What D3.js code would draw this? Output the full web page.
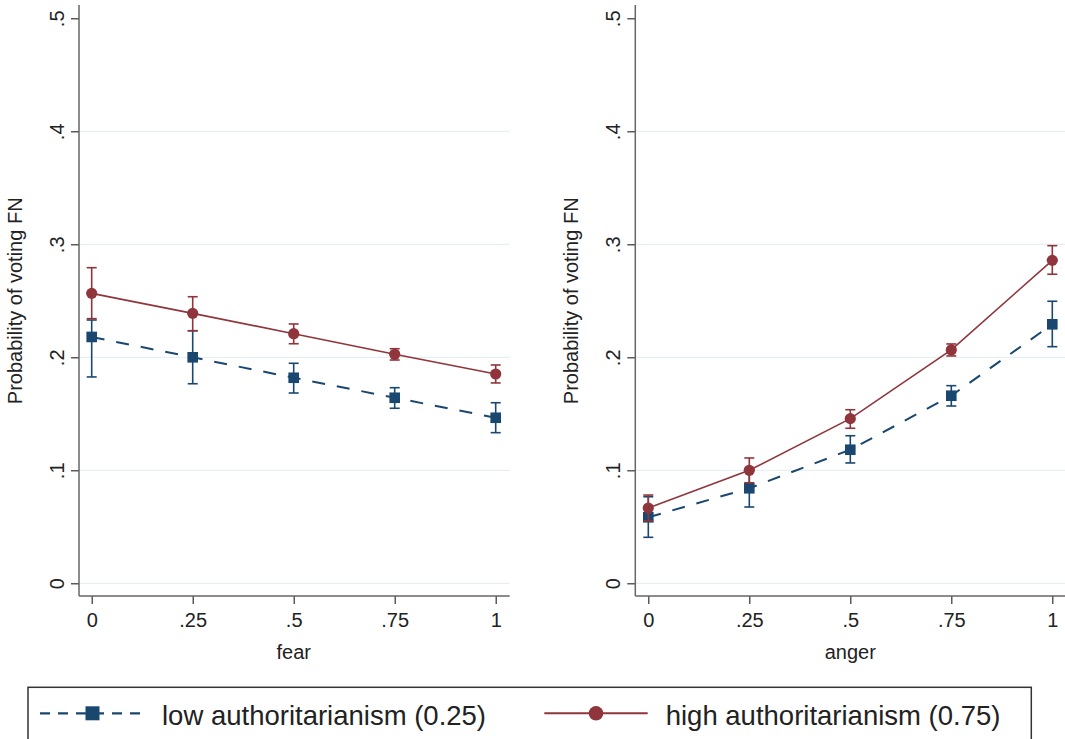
<!DOCTYPE html>
<html>
<head>
<meta charset="utf-8">
<script src="https://cdn.jsdelivr.net/npm/d3@7"></script>
<style>
html,body{margin:0;padding:0;background:#fff;}
svg{display:block;font-family:"Liberation Sans",Arial,Helvetica,sans-serif;}
</style>
</head>
<body>
<svg id="chart" width="1065" height="739"></svg>
<script>
// ---- data ----
const xLevels = [0, 0.25, 0.5, 0.75, 1];
const xTickLabels = ["0", ".25", ".5", ".75", "1"];
const yTicks = [0, 0.1, 0.2, 0.3, 0.4, 0.5];
const yTickLabels = ["0", ".1", ".2", ".3", ".4", ".5"];
const panelTitles = ["fear", "anger"];
const yTitle = "Probability of voting FN";
const seriesNames = ["low authoritarianism (0.25)", "high authoritarianism (0.75)"];

// fear panel
const fearLow     = [0.2180, 0.2000, 0.1819, 0.1642, 0.1465];
const fearLowLo   = [0.1826, 0.1766, 0.1684, 0.1549, 0.1333];
const fearLowHi   = [0.2330, 0.2235, 0.1947, 0.1731, 0.1598];
const fearHigh    = [0.2566, 0.2389, 0.2209, 0.2027, 0.1852];
const fearHighLo  = [0.2342, 0.2235, 0.2120, 0.1976, 0.1773];
const fearHighHi  = [0.2793, 0.2536, 0.2295, 0.2076, 0.1932];
// anger panel
const angerLow    = [0.0584, 0.0841, 0.1182, 0.1660, 0.2292];
const angerLowLo  = [0.0407, 0.0675, 0.1065, 0.1569, 0.2094];
const angerLowHi  = [0.0766, 0.1005, 0.1306, 0.1749, 0.2496];
const angerHigh   = [0.0666, 0.1000, 0.1457, 0.2065, 0.2858];
const angerHighLo = [0.0551, 0.0890, 0.1372, 0.2012, 0.2735];
const angerHighHi = [0.0781, 0.1109, 0.1536, 0.2118, 0.2988];

const colors = ["#1a476f", "#90353b"];
const textColor = "#222";

const svg = d3.select("#chart");

const panels = [
  { title: panelTitles[0], axisX: 79, x0: 91.7, x1: 495.7, right: 509.7,
    series: [
      { v: fearLow, lo: fearLowLo, hi: fearLowHi },
      { v: fearHigh, lo: fearHighLo, hi: fearHighHi } ] },
  { title: panelTitles[1], axisX: 635.3, x0: 648.3, x1: 1052.3, right: 1066,
    series: [
      { v: angerLow, lo: angerLowLo, hi: angerLowHi },
      { v: angerHigh, lo: angerHighLo, hi: angerHighHi } ] }
];

const plotTop = 5, axisY = 596;
const y = d3.scaleLinear().domain([0, 0.5]).range([583.3, 18.3]);

panels.forEach(p => {
  const x = d3.scaleLinear().domain([0, 1]).range([p.x0, p.x1]);
  const g = svg.append("g");

  // gridlines
  g.selectAll("line.grid").data(yTicks.filter(d => d < 0.5)).join("line")
    .attr("x1", p.axisX).attr("x2", p.right)
    .attr("y1", d => y(d)).attr("y2", d => y(d))
    .attr("stroke", "#e6eff1").attr("stroke-width", 1.3);

  // y axis
  const yAxis = d3.axisLeft(y).tickValues(yTicks)
    .tickFormat((d, i) => yTickLabels[i]).tickSize(8).tickSizeOuter(0);
  const ya = g.append("g").attr("transform", `translate(${p.axisX},0)`).call(yAxis);
  ya.select(".domain").remove();
  ya.selectAll(".tick line").attr("stroke", "#333").attr("stroke-width", 1.2);
  ya.selectAll(".tick text")
    .attr("transform", "rotate(-90)")
    .attr("x", 0).attr("y", -15.5).attr("dy", 0)
    .attr("text-anchor", "middle")
    .attr("fill", textColor).style("font-size", "20px");
  g.append("line").attr("x1", p.axisX).attr("x2", p.axisX)
    .attr("y1", plotTop).attr("y2", axisY)
    .attr("stroke", "#666").attr("stroke-width", 1.5);

  // x axis
  const xAxis = d3.axisBottom(x).tickValues(xLevels)
    .tickFormat((d, i) => xTickLabels[i]).tickSize(8).tickSizeOuter(0);
  const xa = g.append("g").attr("transform", `translate(0,${axisY})`).call(xAxis);
  xa.select(".domain").remove();
  xa.selectAll(".tick line").attr("stroke", "#333").attr("stroke-width", 1.2);
  xa.selectAll(".tick text").attr("y", 31).attr("dy", 0)
    .attr("fill", textColor).style("font-size", "20px");
  g.append("line").attr("x1", p.axisX).attr("x2", p.right)
    .attr("y1", axisY).attr("y2", axisY)
    .attr("stroke", "#666").attr("stroke-width", 1.5);

  // titles
  g.append("text").attr("x", (p.x0 + p.x1) / 2).attr("y", 659)
    .attr("text-anchor", "middle").attr("fill", textColor)
    .style("font-size", "20px").text(p.title);
  g.append("text")
    .attr("transform", `translate(${p.axisX - 57},${(y(0) + y(0.5)) / 2}) rotate(-90)`)
    .attr("text-anchor", "middle").attr("fill", textColor)
    .style("font-size", "20px").text(yTitle);

  // series
  p.series.forEach((s, si) => {
    const col = colors[si];
    const pts = xLevels.map((xv, i) => ({ x: xv, v: s.v[i], lo: s.lo[i], hi: s.hi[i] }));
    const sg = g.append("g");
    sg.append("path").datum(pts)
      .attr("d", d3.line().x(d => x(d.x)).y(d => y(d.v)))
      .attr("fill", "none").attr("stroke", col)
      .attr("stroke-width", si === 0 ? 2 : 1.6)
      .attr("stroke-dasharray", si === 0 ? "13,12" : null);
    // error bars
    const eb = sg.selectAll("g.eb").data(pts).join("g");
    eb.append("line").attr("x1", d => x(d.x)).attr("x2", d => x(d.x))
      .attr("y1", d => y(d.lo)).attr("y2", d => y(d.hi))
      .attr("stroke", col).attr("stroke-width", 1.6);
    eb.append("line").attr("x1", d => x(d.x) - 5).attr("x2", d => x(d.x) + 5)
      .attr("y1", d => y(d.lo)).attr("y2", d => y(d.lo))
      .attr("stroke", col).attr("stroke-width", 1.6);
    eb.append("line").attr("x1", d => x(d.x) - 5).attr("x2", d => x(d.x) + 5)
      .attr("y1", d => y(d.hi)).attr("y2", d => y(d.hi))
      .attr("stroke", col).attr("stroke-width", 1.6);
    // markers
    if (si === 0) {
      sg.selectAll("rect.m").data(pts).join("rect")
        .attr("x", d => x(d.x) - 5.3).attr("y", d => y(d.v) - 5.3)
        .attr("width", 10.6).attr("height", 10.6).attr("fill", col);
    } else {
      sg.selectAll("circle.m").data(pts).join("circle")
        .attr("cx", d => x(d.x)).attr("cy", d => y(d.v))
        .attr("r", 5.6).attr("fill", col);
    }
  });
});

// legend
const lg = svg.append("g");
lg.append("rect").attr("x", 28).attr("y", 687.3).attr("width", 1003.3).attr("height", 70)
  .attr("fill", "none").attr("stroke", "#333").attr("stroke-width", 1.5);
const legendItems = [
  { x1: 40, x2: 145, tx: 162 },
  { x1: 544.3, x2: 647.7, tx: 665.7 }
];
const ly = 713.3;
legendItems.forEach((it, i) => {
  lg.append("line").attr("x1", it.x1).attr("x2", it.x2).attr("y1", ly).attr("y2", ly)
    .attr("stroke", colors[i]).attr("stroke-width", i === 0 ? 2.2 : 2)
    .attr("stroke-dasharray", i === 0 ? "10,8" : null);
  const cx = (it.x1 + it.x2) / 2;
  if (i === 0) {
    lg.append("rect").attr("x", cx - 7).attr("y", ly - 7).attr("width", 14).attr("height", 14)
      .attr("fill", colors[i]);
  } else {
    lg.append("circle").attr("cx", cx).attr("cy", ly).attr("r", 7.3).attr("fill", colors[i]);
  }
  lg.append("text").attr("x", it.tx).attr("y", 725).attr("fill", textColor)
    .style("font-size", "27.5px").text(seriesNames[i]);
});
</script>
</body>
</html>
